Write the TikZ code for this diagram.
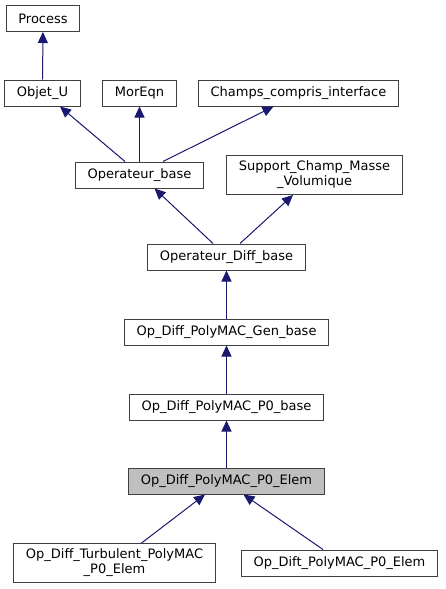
\documentclass[tikz,border=0pt]{standalone}
\usepackage{fontspec}
\setmainfont{DejaVu Sans}
\usetikzlibrary{arrows.meta}
\definecolor{edgeblue}{HTML}{191970}
\definecolor{boxline}{HTML}{404040}

\begin{document}
\begin{tikzpicture}[x=1pt,y=-1pt,
  cls/.style={draw=boxline, fill=white, line width=1pt, minimum height=26pt,
    inner xsep=12pt, inner ysep=5.5pt, align=center,
    font=\fontsize{13}{15}\selectfont},
  here/.style={cls, fill=black!25},
  inh/.style={draw=edgeblue, line width=1pt,
    {Triangle[length=11pt,width=10pt,fill=edgeblue]}-}]
  \useasboundingbox (0,0) rectangle (445,589);
  \node[cls] (process) at (43,18.5) {Process};
  \node[cls] (objetu) at (42.5,93) {Objet\_U};
  \node[cls] (moreqn) at (139.5,93) {MorEqn};
  \node[cls] (champs) at (298.5,93) {Champs\_compris\_interface};
  \node[cls] (opbase) at (139.5,175) {Operateur\_base};
  \node[cls] (support) at (314.5,175) {Support\_Champ\_Masse\\\_Volumique};
  \node[cls] (diffbase) at (226.5,257) {Operateur\_Diff\_base};
  \node[cls] (genbase) at (226.5,332) {Op\_Diff\_PolyMAC\_Gen\_base};
  \node[cls] (pzbase) at (226.5,407) {Op\_Diff\_PolyMAC\_P0\_base};
  \node[here] (pzelem) at (226.5,481) {Op\_Diff\_PolyMAC\_P0\_Elem};
  \node[cls] (turb) at (114.5,563) {Op\_Diff\_Turbulent\_PolyMAC\\\_P0\_Elem};
  \node[cls] (dift) at (339.5,563) {Op\_Dift\_PolyMAC\_P0\_Elem};

  \draw[inh] (process) -- (objetu);
  \draw[inh] ([xshift=17.5pt]objetu.south) -- ([xshift=-14.5pt]opbase.north);
  \draw[inh] (moreqn) -- (opbase);
  \draw[inh] ([xshift=-25pt]champs.south) -- ([xshift=23.5pt]opbase.north);
  \draw[inh] ([xshift=15pt]opbase.south) -- ([xshift=-13.5pt]diffbase.north);
  \draw[inh] ([xshift=-21.5pt]support.south) -- ([xshift=13.5pt]diffbase.north);
  \draw[inh] (diffbase) -- (genbase);
  \draw[inh] (genbase) -- (pzbase);
  \draw[inh] (pzbase) -- (pzelem);
  \draw[inh] ([xshift=-21.5pt]pzelem.south) -- ([xshift=27pt]turb.north);
  \draw[inh] ([xshift=17pt]pzelem.south) -- ([xshift=-16.5pt]dift.north);
\end{tikzpicture}
\end{document}
